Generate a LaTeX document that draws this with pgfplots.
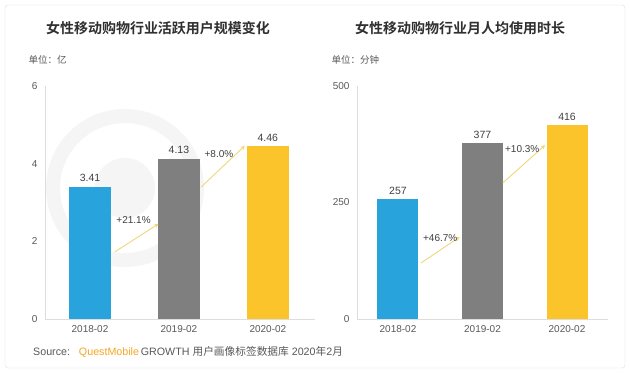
\documentclass[border=0pt]{standalone}
\usepackage{pgfplots}
\pgfplotsset{compat=1.18}
\usepackage{fontspec}
\setmainfont{Liberation Sans}
\newfontfamily\cjk{Noto Sans CJK SC}
\newfontfamily\cjkb{Noto Sans CJK SC Bold}
\usetikzlibrary{arrows.meta}
\definecolor{cblue}{HTML}{29A3DC}
\definecolor{cgray}{HTML}{807F80}
\definecolor{cyellow}{HTML}{FBC42A}
\definecolor{carrow}{HTML}{F0D77A}
\definecolor{axisgray}{HTML}{DDDDDD}
\definecolor{ticklab}{HTML}{595959}
\definecolor{valtext}{HTML}{404040}
\definecolor{titletext}{HTML}{303030}
\definecolor{qmorange}{HTML}{F5A623}
\definecolor{wm}{HTML}{F5F5F5}
\tikzset{pct/.style={font=\fontsize{10}{12}\selectfont, text=valtext}}
\pgfplotsset{
  qm/.style={
    scale only axis, height=233pt, ymin=0,
    axis x line*=bottom, axis y line*=left,
    axis line style={draw=axisgray},
    major tick length=0pt,
    xtick={0,1,2}, xticklabels={2018-02,2019-02,2020-02},
    tick label style={font=\fontsize{10}{12}\selectfont, text=ticklab},
    /pgf/number format/assume math mode=true,
    xticklabel style={yshift=-3pt},
    yticklabel style={xshift=-4pt},
    ybar, clip=false,
    nodes near coords,
    nodes near coords style={font=\fontsize{10.5}{12}\selectfont, text=valtext, yshift=1pt},
  },
  arr/.style={draw=carrow, line width=0.9pt, -{Stealth[length=4pt,width=4pt]}, nodes near coords={}, mark=none},
}
\begin{document}
\begin{tikzpicture}[x=1pt,y=1pt]
\fill[white] (0,0) rectangle (630,373);
\draw[gray!25, rounded corners=3pt] (5,5) rectangle (625,368);
% watermark ring
\draw[wm, line width=14pt] (125,185) circle (72);
\fill[wm] (125,185) circle (30);
% titles
\node[titletext, font=\cjkb\fontsize{14}{16}\selectfont] at (158,345) {女性移动购物行业活跃用户规模变化};
\node[titletext, font=\cjkb\fontsize{14}{16}\selectfont] at (460,345) {女性移动购物行业月人均使用时长};
\node[ticklab, font=\cjk\fontsize{9.5}{11}\selectfont, anchor=west] at (25,313) {单位：亿};
\node[ticklab, font=\cjk\fontsize{9.5}{11}\selectfont, anchor=west] at (328,313) {单位：分钟};
\node[anchor=west, inner sep=0pt, font=\fontsize{10.7}{12}\selectfont] at (33,21) {\textcolor{ticklab}{Source:\ \ \ }\textcolor{qmorange}{QuestMobile}\,\textcolor{ticklab}{GROWTH {\cjk 用户画像标签数据库} 2020{\cjk 年}2{\cjk 月}}};

\begin{axis}[qm, at={(45pt,54pt)}, anchor=south west, width=270pt,
  xmin=-0.506, xmax=2.53, ymax=6, ytick={0,2,4,6}, bar width=42pt]
\addplot[fill=cblue, draw=none, bar shift=0pt] coordinates {(0,3.41)};
\addplot[fill=cgray, draw=none, bar shift=0pt] coordinates {(1,4.13)};
\addplot[fill=cyellow, draw=none, bar shift=0pt] coordinates {(2,4.46)};
\addplot[arr, sharp plot] coordinates {(0.28,1.73) (0.77,2.45)};
\addplot[arr, sharp plot] coordinates {(1.25,3.40) (1.74,4.46)};
\node[pct] at (axis cs:0.49,2.55) {+21.1\%};
\node[pct] at (axis cs:1.45,4.25) {+8.0\%};
\end{axis}

\begin{axis}[qm, at={(357pt,54pt)}, anchor=south west, width=251pt,
  xmin=-0.485, xmax=2.485, ymax=500, ytick={0,250,500}, bar width=41pt]
\addplot[fill=cblue, draw=none, bar shift=0pt] coordinates {(0,257)};
\addplot[fill=cgray, draw=none, bar shift=0pt] coordinates {(1,377)};
\addplot[fill=cyellow, draw=none, bar shift=0pt] coordinates {(2,416)};
\addplot[arr, sharp plot] coordinates {(0.27,120) (0.73,176)};
\addplot[arr, sharp plot] coordinates {(1.24,292) (1.74,373)};
\node[pct] at (axis cs:0.5,174) {+46.7\%};
\node[pct] at (axis cs:1.47,365) {+10.3\%};
\end{axis}
\end{tikzpicture}
\end{document}
